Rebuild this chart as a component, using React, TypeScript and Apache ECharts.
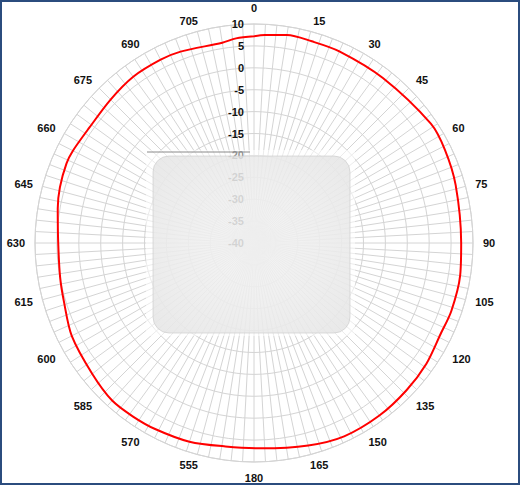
import React, { useEffect, useRef } from 'react'
import * as echarts from 'echarts'

// measured azimuth (deg, clockwise from top) and gain (dBi)
const angles = [0, 3, 9, 16, 24, 38, 56, 64, 74, 90, 99, 109, 116, 125, 134, 144, 155, 165, 178, 188, 198, 208, 215, 222, 231, 243, 253, 260, 270, 280, 286, 293, 297, 305, 315, 324, 333, 339, 351, 355, 360]
const gains = [7.2, 7.55, 8.1, 7.9, 7.9, 7.8, 8.7, 8.5, 7.9, 7.3, 7.65, 7.65, 7.4, 8.05, 8.4, 8.7, 8.7, 7.85, 6.9, 6.9, 7.7, 8.1, 8.3, 8.4, 7.5, 6.7, 5.4, 4.95, 4.7, 5.5, 6.1, 6.5, 6.4, 5.9, 6.3, 6.9, 6.96, 6.8, 6.3, 6.9, 7.2]

const radiusMin = -40
const radiusMax = 10
const radiusStep = 5
const spokeStep = 3
const labelStep = 15

const gridColor = '#d4d4d4'

const labelFont = {
  fontFamily: 'Liberation Sans, Arial, sans-serif',
  fontWeight: 'bold' as const,
  fontSize: 11,
  color: '#111',
}

// small line height so each label sits centred on its anchor point
const richBase = { ...labelFont, lineHeight: 2 }
const labelRich = {
  a: richBase,
  t: { ...labelFont, lineHeight: 12 },
  r: { ...richBase, padding: [0, 0, 0, 12] },
  l: { ...richBase, padding: [0, 12, 0, 0] },
}

const angleLabel = (v: number) => {
  if (v % labelStep !== 0 || v >= 360) return ''
  const text = v <= 180 ? String(v) : String(v + 360)
  if (v === 0 || v === 180) return `{t|${text}}`
  if (v === 15 || v === 165) return `{r|${text}}`
  if (v === 195 || v === 345) return `{l|${text}}`
  return `{a|${text}}`
}

// one colour per spoke; the 360 spoke sits on top of the 0 spoke, so skip it
const spokeColors = Array.from({ length: 360 / spokeStep + 1 }, (_, i) =>
  i === 360 / spokeStep ? 'rgba(0,0,0,0)' : gridColor
)

const App: React.FC = () => {
  const chartRef = useRef<HTMLDivElement>(null)

  useEffect(() => {
    if (!chartRef.current) return
    const chart = echarts.init(chartRef.current, undefined, { renderer: 'svg' })

    const option: echarts.EChartsOption = {
      animation: false,
      backgroundColor: '#fff',
      polar: {
        center: [254, 243],
        radius: 219,
      },
      angleAxis: {
        type: 'value',
        min: 0,
        max: 360,
        interval: spokeStep,
        startAngle: 90,
        clockwise: true,
        axisLine: { show: true, lineStyle: { color: gridColor, width: 1 } },
        axisTick: { show: false },
        splitLine: { show: true, lineStyle: { color: spokeColors, width: 1 } },
        axisLabel: {
          ...labelFont,
          lineHeight: 2,
          margin: 10,
          formatter: angleLabel,
          rich: labelRich,
        },
      },
      radiusAxis: {
        type: 'value',
        min: radiusMin,
        max: radiusMax,
        interval: radiusStep,
        axisLine: { show: false },
        axisTick: { show: false },
        splitLine: { show: true, lineStyle: { color: gridColor, width: 1 } },
        axisLabel: { ...labelFont, margin: 10 },
        z: 3,
      },
      series: [
        {
          type: 'line',
          coordinateSystem: 'polar',
          data: angles.map((a, i) => [gains[i], a]),
          smooth: 0.3,
          showSymbol: false,
          lineStyle: { color: '#ff0000', width: 2 },
          z: 5,
        },
      ],
      graphic: [
        {
          type: 'rect',
          z: 100,
          shape: { x: 146, y: 150, width: 209, height: 186 },
          style: { fill: 'rgba(255,255,255,0.55)' },
        },
        {
          type: 'line',
          z: 101,
          shape: { x1: 147, y1: 152, x2: 250, y2: 152 },
          style: { stroke: '#8a8a8a', lineWidth: 1 },
        },
        {
          type: 'rect',
          z: 102,
          shape: { x: 153, y: 156, width: 197, height: 177, r: 16 },
          style: {
            fill: new echarts.graphic.RadialGradient(0.5, 0.5, 0.7, [
              { offset: 0, color: 'rgba(240,240,240,0.68)' },
              { offset: 1, color: 'rgba(226,226,226,0.78)' },
            ]),
            stroke: 'rgba(200,200,200,0.6)',
            lineWidth: 1,
          },
        },
      ],
    }

    chart.setOption(option)
    return () => chart.dispose()
  }, [])

  return (
    <div style={{ position: 'absolute', left: 0, top: 0, width: 520, height: 485 }}>
      <div ref={chartRef} style={{ width: 520, height: 485 }} />
      <div
        style={{
          position: 'absolute',
          left: 0,
          top: 0,
          width: 520,
          height: 485,
          boxSizing: 'border-box',
          border: '2px solid #2b4c7e',
          pointerEvents: 'none',
        }}
      />
    </div>
  )
}

export default App
